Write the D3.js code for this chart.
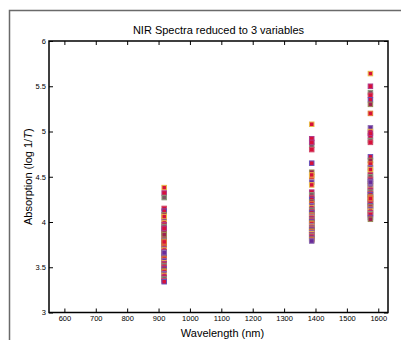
<!DOCTYPE html>
<html>
<head>
<meta charset="utf-8">
<script src="https://cdn.jsdelivr.net/npm/d3@7"></script>
<style>
  body { margin: 0; background: #fff; }
  svg { display: block; font-family: "Liberation Sans", Arial, sans-serif; }
</style>
</head>
<body>
<svg id="chart" width="401" height="340"></svg>
<script>
// wavelengths kept after variable reduction (nm)
const wavelengths = [918, 1388, 1575];

// absorption for each sample at the three wavelengths
const abs916 = [4.38, 4.32, 4.27, 4.15, 4.12, 4.08, 4.05, 4.02, 3.99, 3.97, 3.95, 3.92, 3.90, 3.88, 3.86, 3.84, 3.82, 3.80, 3.79, 3.77,
  3.75, 3.74, 3.72, 3.70, 3.69, 3.67, 3.65, 3.64, 3.62, 3.60, 3.59, 3.57, 3.55, 3.54, 3.52, 3.50, 3.48, 3.46, 3.45, 3.43,
  3.41, 3.39, 3.37, 3.35, 3.34, 3.86, 3.78, 3.66, 4.06, 3.93];
const abs1388 = [5.08, 4.92, 4.85, 4.80, 4.65, 4.55, 4.50, 4.44, 4.41, 4.33, 4.30, 4.27, 4.25, 4.22, 4.20, 4.18, 4.16, 4.14, 4.13, 4.11,
  4.10, 4.08, 4.07, 4.06, 4.05, 4.04, 4.02, 4.01, 4.00, 3.99, 3.98, 3.96, 3.95, 3.94, 3.93, 3.92, 3.91, 3.90, 3.89, 3.88,
  3.87, 3.86, 3.85, 3.84, 3.82, 3.81, 3.80, 3.79, 4.52, 4.88];
const abs1574 = [5.64, 5.50, 5.43, 5.40, 5.35, 5.30, 5.20, 5.04, 5.00, 4.95, 4.90, 4.88, 4.72, 4.68, 4.64, 4.60, 4.56, 4.52, 4.50, 4.47,
  4.45, 4.42, 4.40, 4.38, 4.36, 4.35, 4.33, 4.31, 4.30, 4.28, 4.27, 4.25, 4.24, 4.22, 4.21, 4.20, 4.18, 4.17, 4.15, 4.14,
  4.12, 4.10, 4.09, 4.08, 4.05, 4.03, 4.26, 4.44, 4.58, 4.98];

const xTicks = [600, 700, 800, 900, 1000, 1100, 1200, 1300, 1400, 1500, 1600];
const yTicks = [3, 3.5, 4, 4.5, 5, 5.5, 6];

// marker face / edge pairs cycled over samples
const markerStyles = [
  { face: "#d8103a", edge: "#e8b84a" },
  { face: "#d8103a", edge: "#b03a8a" },
  { face: "#7a5a62", edge: "#8a9a7a" },
  { face: "#d8103a", edge: "#d04a6a" },
  { face: "#d8103a", edge: "#6a52b8" },
  { face: "#a02050", edge: "#9a8a5a" },
  { face: "#d8103a", edge: "#e07a3a" },
  { face: "#6a2a9a", edge: "#8a6ab0" }
];

const plotL = 49, plotR = 388, plotT = 41, plotB = 312.5;
const svg = d3.select("#chart");

// outer figure frame
svg.append("rect")
  .attr("x", 9.5).attr("y", 10.5)
  .attr("width", 500).attr("height", 400)
  .attr("fill", "none").attr("stroke", "#6a6a6a").attr("stroke-width", 1.5);

const x = d3.scaleLinear().domain([551, 1631]).range([plotL, plotR]);
const y = d3.scaleLinear().domain([3, 6]).range([plotB, plotT]);

const points = [];
abs916.forEach((v, i) => {
  const st = markerStyles[i % markerStyles.length];
  [v, abs1388[i], abs1574[i]].forEach((a, k) => {
    points.push({ w: wavelengths[k], a: a, st: st });
  });
});

const ms = 4.5;
svg.append("g")
  .selectAll("rect")
  .data(points)
  .enter()
  .append("rect")
    .attr("x", d => x(d.w) - ms / 2)
    .attr("y", d => y(d.a) - ms / 2)
    .attr("width", ms).attr("height", ms)
    .attr("fill", d => d.st.face)
    .attr("stroke", d => d.st.edge)
    .attr("stroke-width", 1);

// axes with inward ticks on all four sides
const tl = 4;
function styleAxis(g) {
  g.select(".domain").remove();
  g.selectAll(".tick line").attr("stroke", "#000").attr("stroke-width", 1);
}
const tickFont = g => g.selectAll("text")
  .attr("font-size", 7.5)
  .attr("font-family", "Liberation Sans, Arial, sans-serif")
  .attr("fill", "#000");

svg.append("g")
  .attr("transform", `translate(0,${plotB})`)
  .call(d3.axisBottom(x).tickValues(xTicks).tickSizeInner(-tl).tickSizeOuter(0).tickPadding(3).tickFormat(d3.format("d")))
  .call(styleAxis)
  .call(tickFont);
svg.append("g")
  .attr("transform", `translate(0,${plotT})`)
  .call(d3.axisTop(x).tickValues(xTicks).tickSizeInner(-tl).tickSizeOuter(0).tickFormat(""))
  .call(styleAxis);
svg.append("g")
  .attr("transform", `translate(${plotL},0)`)
  .call(d3.axisLeft(y).tickValues(yTicks).tickSizeInner(-tl).tickSizeOuter(0).tickPadding(3).tickFormat(d3.format("")))
  .call(styleAxis)
  .call(tickFont);
svg.append("g")
  .attr("transform", `translate(${plotR},0)`)
  .call(d3.axisRight(y).tickValues(yTicks).tickSizeInner(-tl).tickSizeOuter(0).tickFormat(""))
  .call(styleAxis);

// plot box
svg.append("rect")
  .attr("x", plotL).attr("y", plotT)
  .attr("width", plotR - plotL).attr("height", plotB - plotT)
  .attr("fill", "none").attr("stroke", "#000").attr("stroke-width", 1.5);

// title and labels
svg.append("text")
  .attr("x", (plotL + plotR) / 2).attr("y", 34)
  .attr("text-anchor", "middle").attr("font-size", 11)
  .text("NIR Spectra reduced to 3 variables");

svg.append("text")
  .attr("x", (plotL + plotR) / 2 + 4).attr("y", 337)
  .attr("text-anchor", "middle").attr("font-size", 11)
  .text("Wavelength (nm)");

const yl = svg.append("text")
  .attr("text-anchor", "middle").attr("font-size", 11)
  .attr("transform", `translate(32,${(plotT + plotB) / 2}) rotate(-90)`);
yl.append("tspan").text("Absorption (log 1/");
yl.append("tspan").attr("font-style", "italic").text("T");
yl.append("tspan").text(")");
</script>
</body>
</html>
